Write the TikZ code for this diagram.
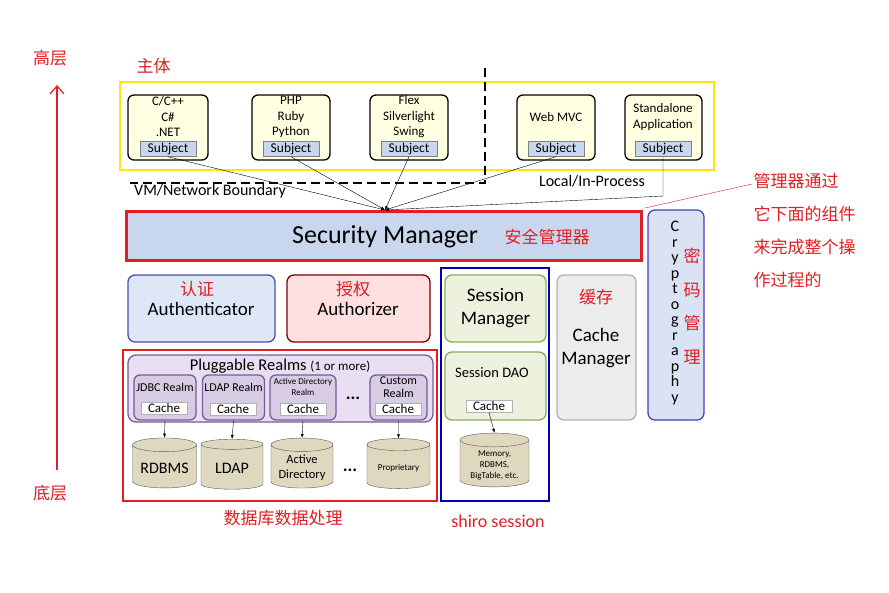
\documentclass[tikz,border=0pt]{standalone}
\usepackage{fontspec}
\setmainfont{Carlito}
\newfontfamily\cjk{Noto Sans CJK SC}
\usetikzlibrary{shapes.geometric,arrows.meta}
\definecolor{cred}{RGB}{225,30,35}
\definecolor{cream}{RGB}{255,255,225}
\definecolor{sblue}{RGB}{200,215,238}
\definecolor{tan}{RGB}{222,216,190}
\definecolor{purp}{RGB}{232,224,242}
\definecolor{purpd}{RGB}{120,90,150}
\definecolor{grn}{RGB}{236,242,222}
\definecolor{grnd}{RGB}{140,170,90}
\tikzset{
 zh/.style={font=\cjk\fontsize{17}{19}\selectfont, text=cred},
 app/.style={draw, line width=1.3pt, rounded corners=6pt, fill=cream, align=center},
 subj/.style={draw=gray, fill=sblue, font=\fontsize{13.5}{14}\selectfont, inner sep=1.5pt, minimum width=56pt, minimum height=15pt},
 cachebox/.style={draw=gray!60, fill=white, font=\fontsize{13}{13}\selectfont, inner sep=1.5pt, minimum width=46pt},
 realm/.style={draw=purpd, line width=1.3pt, rounded corners=6pt, fill=purp!85!purpd, minimum width=62pt, minimum height=45pt},
 db/.style={cylinder, shape border rotate=90, aspect=0.25, draw=gray!70!black, fill=tan, minimum width=64pt, minimum height=50pt, align=center},
 conn/.style={-{Latex[length=4pt,width=3pt]}, thin},
 apptxt/.style={font=\fontsize{13}{15.5}\selectfont, align=center},
}
\begin{document}
\begin{tikzpicture}[x=1pt,y=-1pt]
\useasboundingbox (0,0) rectangle (889,592);
\coordinate (lb) at (57,470); \coordinate (lt) at (57,85);
\draw[cred, line width=1.2pt, -{Straight Barb[length=8pt,width=14pt]}] (lb) -- (lt);
\node[zh] (hi) at (50,58) {高层};
\node[zh] (lo) at (50,493) {底层};
\node[zh,anchor=west] (zt) at (133,66) {主体};
\draw[yellow!90!orange, line width=2.5pt] (120,82) rectangle (714,170);
\draw[dash pattern=on 9pt off 5pt, line width=1.6pt] (485,68) -- (485,183) -- (130,183);
\node[app, minimum width=80pt, minimum height=65pt] (a1) at (168,127.5) {};
\node[app, minimum width=78pt, minimum height=65pt] (a2) at (291,127.5) {};
\node[app, minimum width=78pt, minimum height=65pt] (a3) at (409,127.5) {};
\node[app, minimum width=78pt, minimum height=65pt] (a4) at (556,127.5) {};
\node[app, minimum width=77pt, minimum height=65pt] (a5) at (663.5,127.5) {};
\node[apptxt] (t1) at (168,117) {C/C++\\C\#\\.NET};
\node[apptxt] (t2) at (291,117) {PHP\\Ruby\\Python};
\node[apptxt] (t3) at (409,117) {Flex\\Silverlight\\Swing};
\node[apptxt] (t4) at (556,117) {Web MVC};
\node[apptxt] (t5) at (663,117) {Standalone\\Application};
\node[subj] (s1) at (168,149) {Subject};
\node[subj] (s2) at (291,149) {Subject};
\node[subj] (s3) at (409,149) {Subject};
\node[subj] (s4) at (556,149) {Subject};
\node[subj] (s5) at (663,149) {Subject};
\node[font=\fontsize{16}{18}\selectfont] (vm) at (210,191) {VM/Network Boundary};
\node[font=\fontsize{16}{18}\selectfont] (lp) at (592,181) {Local/In-Process};
\node[draw=cred, line width=3pt, fill=sblue, minimum width=515pt, minimum height=49pt] (sm) at (384,236) {};
\node[font=\fontsize{26}{28}\selectfont] (smt) at (385,237) {Security Manager};
\node[zh] (smz) at (547,237) {安全管理器};
\coordinate (tg) at (385,210);
\draw[conn] (s1.south) -- (tg);
\draw[conn] (s2.south) -- (tg);
\draw[conn] (s3.south) -- (tg);
\draw[conn] (s4.south) -- (tg);
\coordinate (bend) at (663,196);
\draw[conn] (s5.south) -- (bend) -- (tg);
\node[draw=blue!50!gray, line width=1.2pt, rounded corners=7pt, fill=sblue!70!white, minimum width=56pt, minimum height=210pt] (cr) at (676,315) {};
\node[font=\fontsize{16}{15.5}\selectfont, align=center] (crt) at (675,313) {C\\r\\y\\p\\t\\o\\g\\r\\a\\p\\h\\y};
\node[zh, align=center, font=\cjk\fontsize{17}{33.5}\selectfont] (crz) at (692,306) {密\\码\\管\\理};
\coordinate (rl) at (645,208); \coordinate (rr) at (752,184);
\draw[cred, thin] (rl) -- (rr);
\node[zh, anchor=north west, align=left, font=\cjk\fontsize{17}{33}\selectfont] (note) at (750,170) {管理器通过\\它下面的组件\\来完成整个操\\作过程的};
\node[draw=blue!40!gray, line width=1.3pt, rounded corners=7pt, fill=sblue!60!white, minimum width=147pt, minimum height=67pt] (au) at (201.5,308.5) {};
\node[zh] (auz) at (197,289) {认证};
\node[font=\fontsize{19}{21}\selectfont] (aut) at (201,309) {Authenticator};
\node[draw=red!50!black, line width=1.3pt, rounded corners=7pt, fill=red!12!white, minimum width=143pt, minimum height=67pt] (az) at (358.5,308.5) {};
\node[zh] (azz) at (353,289) {授权};
\node[font=\fontsize{19}{21}\selectfont] (azt) at (358,309) {Authorizer};
\draw[blue!70!black, line width=2pt] (441,268) rectangle (549,501);
\node[draw=grnd, line width=1.3pt, rounded corners=7pt, fill=grn, minimum width=101pt, minimum height=67pt, align=center, font=\fontsize{19}{23}\selectfont] (sman) at (495.5,308.5) {Session\\Manager};
\node[draw=grnd, line width=1.3pt, rounded corners=7pt, fill=grn, minimum width=101pt, minimum height=68pt] (sdao) at (495.5,386) {};
\node[font=\fontsize{14.5}{16}\selectfont] (sdt) at (492,373) {Session DAO};
\node[cachebox] (sc) at (489,406) {Cache};
\node[db, minimum width=69pt, minimum height=50pt, font=\fontsize{9}{11}\selectfont] (sdb) at (494.5,465) {Memory,\\RDBMS,\\BigTable, etc.};
\draw[conn] (sc.south) -- (sdb.north);
\node[draw=gray!60, line width=1.3pt, rounded corners=7pt, fill=gray!15, minimum width=79pt, minimum height=145pt] (cm) at (596.5,347.5) {};
\node[zh] (cmz) at (596,297) {缓存};
\node[font=\fontsize{19}{23}\selectfont, align=center] (cmt) at (596,348) {Cache\\Manager};
\draw[cred, line width=2pt] (123,350) rectangle (437,501);
\node[draw=purpd, line width=1.3pt, rounded corners=8pt, fill=purp, minimum width=305pt, minimum height=67pt] (pr) at (280.5,388.5) {};
\node[font=\fontsize{16.5}{18}\selectfont] (prt) at (280,366) {Pluggable Realms {\fontsize{13}{14}\selectfont(1 or more)}};
\node[realm] (r1) at (165,397.5) {};
\node[realm] (r2) at (233.5,397.5) {};
\node[realm, minimum width=66pt] (r3) at (303,397.5) {};
\node[realm, minimum width=57pt] (r4) at (398.5,397.5) {};
\node[font=\fontsize{12}{13}\selectfont] (r1t) at (165,387) {JDBC Realm};
\node[font=\fontsize{12}{13}\selectfont] (r2t) at (233.5,387) {LDAP Realm};
\node[font=\fontsize{9}{11}\selectfont, align=center] (r3t) at (303,387) {Active Directory\\Realm};
\node[font=\fontsize{12}{13}\selectfont, align=center] (r4t) at (398.5,387) {Custom\\Realm};
\node[cachebox] (c1) at (164,408) {Cache};
\node[cachebox] (c2) at (233,409) {Cache};
\node[cachebox] (c3) at (303,409) {Cache};
\node[cachebox] (c4) at (398,409) {Cache};
\node[font=\fontsize{18}{18}\selectfont] (d1) at (353,398) {\textbf{...}};
\node[db, font=\fontsize{16}{18}\selectfont] (db1) at (164.5,468) {RDBMS};
\node[db, minimum width=62pt, font=\fontsize{16}{18}\selectfont] (db2) at (232,468) {LDAP};
\node[db, minimum width=62pt, font=\fontsize{12.5}{15}\selectfont] (db3) at (302,468) {Active\\Directory};
\node[db, minimum width=63pt, font=\fontsize{9}{11}\selectfont] (db4) at (398.5,468) {Proprietary};
\node[font=\fontsize{18}{18}\selectfont] (d2) at (350,470) {\textbf{...}};
\draw[conn] (r1.south) -- (db1.north);
\draw[conn] (r2.south) -- (db2.north);
\draw[conn] (r3.south) -- (db3.north);
\draw[conn] (r4.south) -- (db4.north);
\node[zh] (dz) at (283,518) {数据库数据处理};
\node[text=cred, font=\fontsize{18}{20}\selectfont] (ss) at (498,521) {shiro session};
\end{tikzpicture}
\end{document}
